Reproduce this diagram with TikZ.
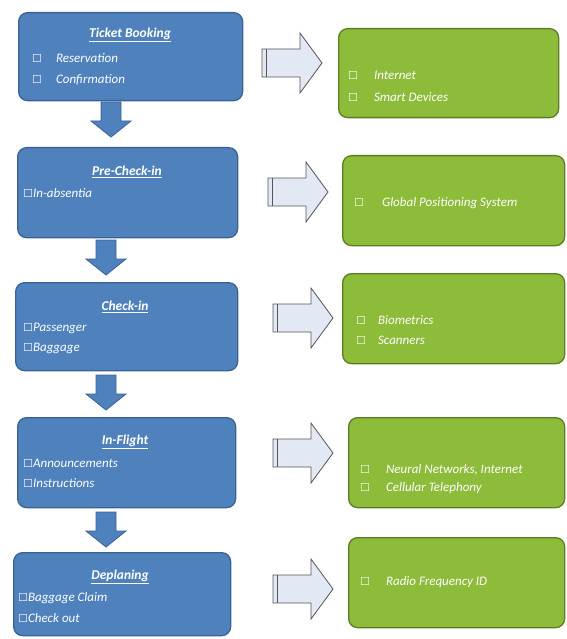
\documentclass[tikz,border=0pt]{standalone}
\usepackage{fontspec}
\setmainfont{Carlito}
\newfontfamily\symfont{DejaVu Sans}
\definecolor{bluebox}{HTML}{4F81BD}
\definecolor{blueedge}{HTML}{3A6296}
\definecolor{greenbox}{HTML}{8DBB3A}
\definecolor{greenedge}{HTML}{5C7D22}
\definecolor{arrowfill}{HTML}{E2E9F4}
\definecolor{arrowedge}{HTML}{555555}
\newcommand{\chk}{{\symfont\fontsize{11}{12}\selectfont ☐}}
\tikzset{
  bluebox/.style={draw=blueedge, line width=1.3pt, fill=bluebox, rounded corners=9pt, inner sep=0pt},
  greenbox/.style={draw=greenedge, line width=1.3pt, fill=greenbox, rounded corners=9pt, inner sep=0pt},
  boxtitle/.style={text=white, font=\fontsize{13.5}{15}\selectfont\bfseries\itshape, inner sep=0pt},
  boxitem/.style={text=white, font=\fontsize{13}{15}\selectfont\itshape, anchor=west, inner sep=0pt},
  downarr/.pic={\path[draw=blueedge, line width=0.8pt, fill=bluebox]
     (-10,0) -- (10,0) -- (10,19) -- (20,19) -- (0,35) -- (-20,19) -- (-10,19) -- cycle;},
  rightarr/.pic={\path[draw=arrowedge, line width=0.8pt, fill=arrowfill]
     (0,-14) -- (38,-14) -- (38,-30) -- (60,0) -- (38,30) -- (38,14) -- (0,14) -- cycle;
     \draw[arrowedge, line width=0.6pt] (4,-14) -- (4,14);}
}
\begin{document}
\begin{tikzpicture}[x=1pt,y=-1pt]
\useasboundingbox (0,0) rectangle (566,639);
% blue boxes
\node[bluebox, minimum width=224pt, minimum height=88pt, anchor=north west] (b1) at (18,12) {};
\node[bluebox, minimum width=220pt, minimum height=90pt, anchor=north west] (b2) at (17,147) {};
\node[bluebox, minimum width=222pt, minimum height=88pt, anchor=north west] (b3) at (15,282) {};
\node[bluebox, minimum width=218pt, minimum height=90pt, anchor=north west] (b4) at (17,417) {};
\node[bluebox, minimum width=217pt, minimum height=83pt, anchor=north west] (b5) at (13,552) {};
% green boxes
\node[greenbox, minimum width=220pt, minimum height=89pt, anchor=north west] (g1) at (338,28) {};
\node[greenbox, minimum width=222pt, minimum height=90pt, anchor=north west] (g2) at (342,155) {};
\node[greenbox, minimum width=222pt, minimum height=90pt, anchor=north west] (g3) at (342,273) {};
\node[greenbox, minimum width=216pt, minimum height=90pt, anchor=north west] (g4) at (348,417) {};
\node[greenbox, minimum width=216pt, minimum height=90pt, anchor=north west] (g5) at (348,537) {};
% down arrows
\pic at (111,102) {downarr};
\pic at (106,240) {downarr};
\pic at (106,375) {downarr};
\pic at (106,512) {downarr};
% right arrows
\pic at (262,63) {rightarr};
\pic at (268,192) {rightarr};
\pic at (273,318) {rightarr};
\pic at (273,453) {rightarr};
\pic at (273,589) {rightarr};
% blue texts
\node[boxtitle] (t1) at (130,35) {\underline{Ticket Booking}};
\node[boxitem] (i11) at (32,58) {\chk\hspace{14pt}Reservation};
\node[boxitem] (i12) at (32,80) {\chk\hspace{14pt}Confirmation};
\node[boxtitle] (t2) at (127,172) {\underline{Pre-Check-in}};
\node[boxitem] (i21) at (23,193) {\chk In-absentia};
\node[boxtitle] (t3) at (125,307) {\underline{Check-in}};
\node[boxitem] (i31) at (23,328) {\chk Passenger};
\node[boxitem] (i32) at (23,348) {\chk Baggage};
\node[boxtitle] (t4) at (125,442) {\underline{In-Flight}};
\node[boxitem] (i41) at (23,463) {\chk Announcements};
\node[boxitem] (i42) at (23,483) {\chk Instructions};
\node[boxtitle] (t5) at (120,577) {\underline{Deplaning}};
\node[boxitem] (i51) at (18,598) {\chk Baggage Claim};
\node[boxitem] (i52) at (18,618) {\chk Check out};
% green texts
\node[boxitem] (j11) at (348,75) {\chk\hspace{16pt}Internet};
\node[boxitem] (j12) at (348,97) {\chk\hspace{16pt}Smart Devices};
\node[boxitem] (j21) at (354,203) {\chk\hspace{18pt}Global Positioning System};
\node[boxitem] (j31) at (356,320) {\chk\hspace{12pt}Biometrics};
\node[boxitem] (j32) at (356,340) {\chk\hspace{12pt}Scanners};
\node[boxitem] (j41) at (360,470) {\chk\hspace{16pt}Neural Networks, Internet};
\node[boxitem] (j42) at (360,488) {\chk\hspace{16pt}Cellular Telephony};
\node[boxitem] (j51) at (360,582) {\chk\hspace{16pt}Radio Frequency ID};
\end{tikzpicture}
\end{document}
